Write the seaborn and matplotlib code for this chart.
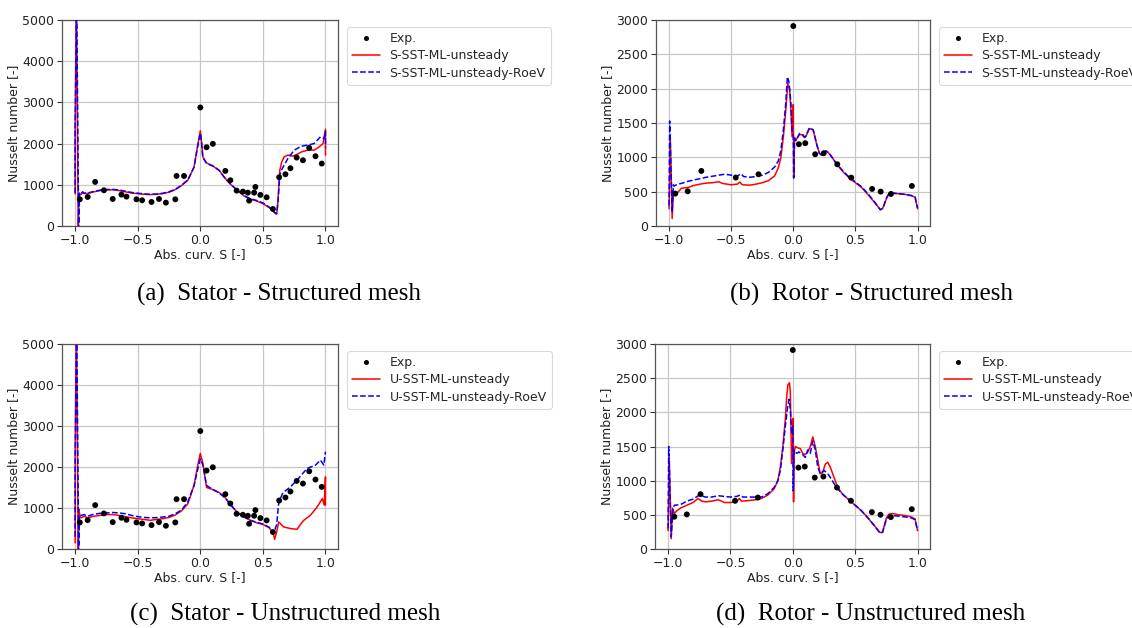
import numpy as np
import pandas as pd
import matplotlib
matplotlib.use("Agg")
import matplotlib.pyplot as plt
import seaborn as sns

# ---------------- Experimental data ----------------
stator_exp_x = [-0.963, -0.90, -0.84, -0.77, -0.70, -0.63, -0.59, -0.51, -0.465, -0.39, -0.33,
                -0.275, -0.20, -0.19, -0.13, 0.0, 0.05, 0.10, 0.20, 0.24, 0.29, 0.34, 0.38, 0.39,
                0.43, 0.44, 0.48, 0.53, 0.58, 0.63, 0.68, 0.72, 0.77, 0.82, 0.87, 0.92, 0.97]
stator_exp_y = [648, 705, 1070, 867, 656, 762, 713, 648, 624, 583, 656,
                567, 648, 1215, 1215, 2877, 1912, 1993, 1337, 1110, 859, 835, 810, 616,
                810, 948, 754, 697, 413, 1183, 1256, 1402, 1661, 1596, 1896, 1694, 1515]

rotor_exp_x = [-0.95, -0.85, -0.74, -0.463, -0.28, 0.0, 0.045, 0.096, 0.176, 0.245, 0.354,
               0.466, 0.634, 0.703, 0.786, 0.954]
rotor_exp_y = [472, 506, 802, 705, 753, 2912, 1191, 1206, 1045, 1060, 899,
               705, 540, 501, 467, 583]

# ---------------- (a) Stator - Structured ----------------
a_red_x = [-1.0, -1.0, -0.99, -0.975, -0.968, -0.96, -0.95, -0.94, -0.93, -0.9, -0.85, -0.8, -0.75,
           -0.7, -0.65, -0.6, -0.55, -0.5, -0.45, -0.4, -0.35, -0.3, -0.25, -0.2, -0.15, -0.1,
           -0.07, -0.05, -0.03, -0.01, 0.0, 0.01, 0.02, 0.05, 0.1, 0.15, 0.2, 0.25, 0.3, 0.35,
           0.4, 0.45, 0.5, 0.55, 0.58, 0.6, 0.61, 0.62, 0.635, 0.65, 0.67, 0.7, 0.74, 0.78,
           0.81, 0.86, 0.91, 0.95, 0.98, 1.0, 1.0]
a_red_y = [780, 2370, 5600, -50, 780, 760, 770, 820, 790, 790, 830, 860, 875,
           880, 860, 830, 800, 786, 770, 762, 770, 786, 820, 883, 980, 1110,
           1300, 1434, 1800, 2150, 2310, 2050, 1677, 1530, 1459, 1353, 1150, 988, 850, 729,
           648, 608, 543, 446, 365, 300, 290, 600, 1355, 1550, 1679, 1720, 1695, 1750,
           1800, 1842, 1842, 1922, 2000, 2350, 1720]

a_blue_x = [-1.0, -1.0, -0.988, -0.972, -0.965, -0.96, -0.95, -0.94, -0.93, -0.9, -0.85, -0.8, -0.75,
            -0.7, -0.65, -0.6, -0.55, -0.5, -0.45, -0.4, -0.35, -0.3, -0.25, -0.2, -0.15, -0.1,
            -0.07, -0.05, -0.03, -0.01, 0.0, 0.01, 0.02, 0.05, 0.1, 0.15, 0.2, 0.25, 0.3, 0.35,
            0.4, 0.45, 0.5, 0.55, 0.58, 0.6, 0.61, 0.62, 0.635, 0.655, 0.7, 0.75, 0.81,
            0.86, 0.91, 0.96, 0.99, 1.0, 1.0]
a_blue_y = [800, 2300, 5600, -50, 800, 770, 790, 830, 800, 800, 840, 870, 885,
            890, 875, 845, 815, 795, 780, 770, 775, 795, 830, 890, 990, 1120,
            1300, 1430, 1780, 2100, 2250, 2020, 1660, 1520, 1455, 1350, 1150, 990, 860, 740,
            660, 620, 560, 460, 380, 310, 300, 560, 1250, 1397, 1640, 1842, 1939,
            1963, 2003, 2165, 2125, 2300, 1900]

# ---------------- (b) Rotor - Structured ----------------
b_red_x = [-1.0, -0.99, -0.975, -0.965, -0.96, -0.94, -0.9, -0.85, -0.8, -0.75, -0.7, -0.65,
           -0.6, -0.57, -0.5, -0.45, -0.43, -0.41, -0.35, -0.3, -0.25, -0.2, -0.15, -0.12,
           -0.1, -0.08, -0.06, -0.05, -0.045, -0.03, -0.02, -0.01, 0.0, 0.003, 0.01, 0.02,
           0.05, 0.08, 0.09, 0.1, 0.13, 0.16, 0.19, 0.21, 0.23, 0.26, 0.28, 0.3, 0.35, 0.4,
           0.45, 0.5, 0.55, 0.6, 0.65, 0.7, 0.72, 0.75, 0.77, 0.8, 0.85, 0.9, 0.95, 0.98,
           1.0]
b_red_y = [250, 1300, 110, 500, 480, 470, 550, 560, 590, 610, 625, 630,
           645, 620, 600, 610, 640, 600, 595, 610, 630, 660, 730, 850,
           1000, 1300, 1700, 1950, 2076, 2000, 1700, 1300, 1770, 700, 1290, 1250,
           1330, 1330, 1290, 1300, 1420, 1400, 1177, 1060, 1030, 1094, 1070, 1030, 900, 790,
           700, 630, 560, 460, 350, 240, 260, 400, 470, 475, 470, 460, 440, 420,
           250]

b_blue_x = [-1.0, -0.995, -0.975, -0.965, -0.96, -0.93, -0.9, -0.85, -0.8, -0.75, -0.7, -0.6,
            -0.55, -0.5, -0.45, -0.42, -0.4, -0.35, -0.3, -0.25, -0.2, -0.15, -0.12, -0.1,
            -0.08, -0.06, -0.048, -0.035, -0.02, -0.01, 0.0, 0.003, 0.01, 0.02, 0.05, 0.08,
            0.09, 0.1, 0.13, 0.16, 0.19, 0.21, 0.23, 0.26, 0.28, 0.3, 0.35, 0.4, 0.45, 0.5,
            0.55, 0.6, 0.65, 0.7, 0.72, 0.75, 0.77, 0.8, 0.85, 0.9, 0.95, 0.98, 1.0]
b_blue_y = [300, 1530, 200, 600, 580, 610, 620, 650, 670, 690, 710, 740,
            755, 740, 730, 760, 720, 710, 720, 740, 780, 860, 950, 1100,
            1400, 1800, 2173, 2100, 1800, 1400, 1300, 700, 1274, 1240, 1347, 1310,
            1290, 1310, 1430, 1400, 1177, 1060, 1030, 1094, 1075, 1030, 900, 800, 710, 640,
            570, 470, 360, 235, 255, 410, 475, 480, 470, 460, 445, 420, 260]

# ---------------- (c) Stator - Unstructured ----------------
c_red_x = [-1.0, -1.0, -0.99, -0.975, -0.97, -0.96, -0.95, -0.93, -0.9, -0.85, -0.8, -0.75,
           -0.7, -0.65, -0.6, -0.55, -0.5, -0.45, -0.4, -0.35, -0.3, -0.25, -0.2, -0.15, -0.1,
           -0.05, -0.02, 0.0, 0.02, 0.05, 0.1, 0.15, 0.2, 0.25, 0.3, 0.35, 0.4, 0.45, 0.5,
           0.55, 0.58, 0.594, 0.61, 0.626, 0.666, 0.72, 0.773, 0.8, 0.827, 0.88, 0.934,
           0.975, 0.99, 1.0, 1.0]
c_red_y = [150, 2300, 5600, -50, 970, 780, 760, 800, 760, 800, 820, 840,
           840, 820, 790, 760, 740, 720, 700, 720, 740, 770, 830, 930, 1100,
           1550, 2050, 2330, 2100, 1500, 1450, 1380, 1250, 1050, 880, 780, 700, 640, 600,
           520, 400, 237, 420, 660, 538, 499, 480, 600, 700, 824, 1027,
           1232, 1070, 1760, 1070]

c_blue_x = [-1.0, -1.0, -0.988, -0.972, -0.965, -0.96, -0.95, -0.93, -0.9, -0.85, -0.8, -0.75,
            -0.7, -0.65, -0.6, -0.55, -0.5, -0.45, -0.4, -0.35, -0.3, -0.25, -0.2, -0.15, -0.1,
            -0.05, -0.02, 0.0, 0.02, 0.05, 0.1, 0.15, 0.2, 0.25, 0.3, 0.35, 0.4, 0.45, 0.5,
            0.55, 0.586, 0.61, 0.627, 0.66, 0.72, 0.773, 0.853, 0.92, 0.96, 0.987, 1.0]
c_blue_y = [300, 2000, 5600, -50, 820, 830, 820, 840, 800, 850, 870, 880,
            890, 880, 860, 820, 790, 770, 760, 765, 780, 800, 860, 950, 1150,
            1550, 1950, 2200, 2050, 1550, 1450, 1370, 1240, 1050, 880, 780, 700, 650, 610,
            530, 376, 600, 1150, 1370, 1516, 1680, 1966, 2046, 2168, 2046, 2372]

# ---------------- (d) Rotor - Unstructured ----------------
d_red_x = [-1.0, -0.99, -0.975, -0.965, -0.95, -0.93, -0.9, -0.85, -0.8, -0.76, -0.73, -0.7,
           -0.65, -0.6, -0.57, -0.55, -0.5, -0.45, -0.43, -0.41, -0.35, -0.3, -0.25, -0.2,
           -0.15, -0.12, -0.1, -0.08, -0.06, -0.05, -0.04, -0.027, -0.02, -0.015, -0.01, 0.0,
           0.003, 0.006, 0.01, 0.02, 0.04, 0.06, 0.08, 0.1, 0.12, 0.14, 0.16, 0.18, 0.2, 0.22,
           0.24, 0.26, 0.28, 0.3, 0.33, 0.36, 0.4, 0.45, 0.5, 0.55, 0.6, 0.65, 0.7, 0.72,
           0.75, 0.77, 0.8, 0.85, 0.9, 0.95, 0.98, 1.0]
d_red_y = [270, 1300, 150, 600, 520, 560, 600, 640, 680, 740, 700, 690,
           700, 720, 700, 680, 680, 690, 740, 700, 710, 720, 740, 790,
           880, 1000, 1200, 1500, 1900, 2200, 2400, 2434, 2300, 1800, 1250, 1500,
           1912, 690, 1400, 1500, 1480, 1470, 1400, 1380, 1420, 1500, 1640, 1500, 1300, 1100,
           1120, 1240, 1270, 1200, 1050, 900, 800, 720, 640, 560, 460, 350, 240, 250,
           450, 510, 520, 500, 490, 470, 440, 270]

d_blue_x = [-1.0, -0.995, -0.975, -0.96, -0.95, -0.9, -0.85, -0.8, -0.75, -0.7, -0.65, -0.6,
            -0.55, -0.5, -0.45, -0.42, -0.4, -0.35, -0.3, -0.25, -0.2, -0.15, -0.12, -0.1,
            -0.08, -0.06, -0.04, -0.03, -0.02, -0.01, 0.0, 0.003, 0.01, 0.03, 0.05, 0.08, 0.1,
            0.12, 0.14, 0.16, 0.18, 0.2, 0.22, 0.25, 0.28, 0.3, 0.35, 0.4, 0.45, 0.5, 0.55,
            0.6, 0.65, 0.7, 0.72, 0.75, 0.77, 0.8, 0.85, 0.9, 0.95, 0.98, 1.0]
d_blue_y = [300, 1500, 180, 600, 640, 650, 700, 730, 790, 760, 760, 780,
            770, 760, 770, 790, 760, 760, 760, 760, 810, 900, 1000, 1150,
            1450, 1800, 2100, 2190, 2050, 1700, 1800, 850, 1450, 1400, 1420, 1380, 1340,
            1450, 1400, 1580, 1450, 1200, 1100, 1150, 1100, 1050, 900, 800, 720, 640, 560,
            460, 350, 230, 245, 440, 480, 490, 480, 470, 455, 430, 270]

# ---------------- Text ----------------
captions = ["(a)  Stator - Structured mesh", "(b)  Rotor - Structured mesh",
            "(c)  Stator - Unstructured mesh", "(d)  Rotor - Unstructured mesh"]
labels_S = ["Exp.", "S-SST-ML-unsteady", "S-SST-ML-unsteady-RoeV"]
labels_U = ["Exp.", "U-SST-ML-unsteady", "U-SST-ML-unsteady-RoeV"]
xticks = [-1.0, -0.5, 0.0, 0.5, 1.0]
stator_yticks = [0, 1000, 2000, 3000, 4000, 5000]
rotor_yticks = [0, 500, 1000, 1500, 2000, 2500, 3000]

sns.set_style("ticks")
plt.rcParams.update({
    "font.family": ["DejaVu Sans"],
    "axes.edgecolor": "#555555",
    "axes.linewidth": 0.9,
    "grid.color": "#c8c8c8",
    "grid.linewidth": 0.9,
    "xtick.color": "#333333",
    "ytick.color": "#333333",
    "xtick.labelcolor": "#222222",
    "ytick.labelcolor": "#222222",
    "xtick.major.size": 3.5,
    "ytick.major.size": 3.5,
})

fig = plt.figure(figsize=(11.32, 6.28), dpi=100)
W, H = 1132, 628

panels = [
    dict(rect=(62, 20, 276, 206), exp=(stator_exp_x, stator_exp_y), red=(a_red_x, a_red_y),
         blue=(a_blue_x, a_blue_y), ylim=(0, 5000), yticks=stator_yticks, labels=labels_S),
    dict(rect=(656, 20, 274, 206), exp=(rotor_exp_x, rotor_exp_y), red=(b_red_x, b_red_y),
         blue=(b_blue_x, b_blue_y), ylim=(0, 3000), yticks=rotor_yticks, labels=labels_S),
    dict(rect=(62, 344, 276, 205), exp=(stator_exp_x, stator_exp_y), red=(c_red_x, c_red_y),
         blue=(c_blue_x, c_blue_y), ylim=(0, 5000), yticks=stator_yticks, labels=labels_U),
    dict(rect=(655, 344, 275, 205), exp=(rotor_exp_x, rotor_exp_y), red=(d_red_x, d_red_y),
         blue=(d_blue_x, d_blue_y), ylim=(0, 3000), yticks=rotor_yticks, labels=labels_U),
]

for p in panels:
    l, t, w, h = p["rect"]
    ax = fig.add_axes([l / W, 1 - (t + h) / H, w / W, h / H])
    ex = pd.DataFrame({"x": p["exp"][0], "y": p["exp"][1]})
    rd = pd.DataFrame({"x": p["red"][0], "y": p["red"][1]})
    bl = pd.DataFrame({"x": p["blue"][0], "y": p["blue"][1]})
    ax.plot([], [], ls="none", marker="o", color="black", ms=2.6, label=p["labels"][0])
    sns.lineplot(data=rd, x="x", y="y", ax=ax, sort=False, estimator=None, color="red",
                 lw=1.1, label=p["labels"][1], zorder=3)
    sns.lineplot(data=bl, x="x", y="y", ax=ax, sort=False, estimator=None, color="blue",
                 lw=1.1, ls="--", dashes=(4, 2), label=p["labels"][2], zorder=4)
    sns.scatterplot(data=ex, x="x", y="y", ax=ax, color="black", s=18, edgecolor="none",
                    zorder=5, legend=False)
    ax.set_xlim(-1.105, 1.1)
    ax.set_ylim(*p["ylim"])
    ax.set_xticks(xticks)
    ax.set_yticks(p["yticks"])
    ax.grid(True)
    ax.tick_params(labelsize=9, pad=2)
    ax.set_xlabel("Abs. curv. S [-]", fontsize=9, labelpad=1, color="#222222")
    ax.set_ylabel("Nusselt number [-]", fontsize=9, labelpad=2, color="#222222")
    for s in ax.spines.values():
        s.set_visible(True)
    leg = ax.legend(loc="upper left", bbox_to_anchor=(1 + 9 / w, 1 - 7 / h), borderaxespad=0,
                    fontsize=9, frameon=True, handlelength=2.2, labelspacing=0.35)
    leg.get_frame().set_edgecolor("#d0d0d0")
    leg.get_frame().set_linewidth(0.8)

cap_pos = [(279, 294), (871, 294), (285, 614), (871, 614)]
for (cx, cy), txt in zip(cap_pos, captions):
    fig.text(cx / W, 1 - cy / H, txt, ha="center", va="center", fontsize=18,
             family=["Liberation Serif", "DejaVu Serif"], color="black")

fig.savefig("out.png", dpi=100)
